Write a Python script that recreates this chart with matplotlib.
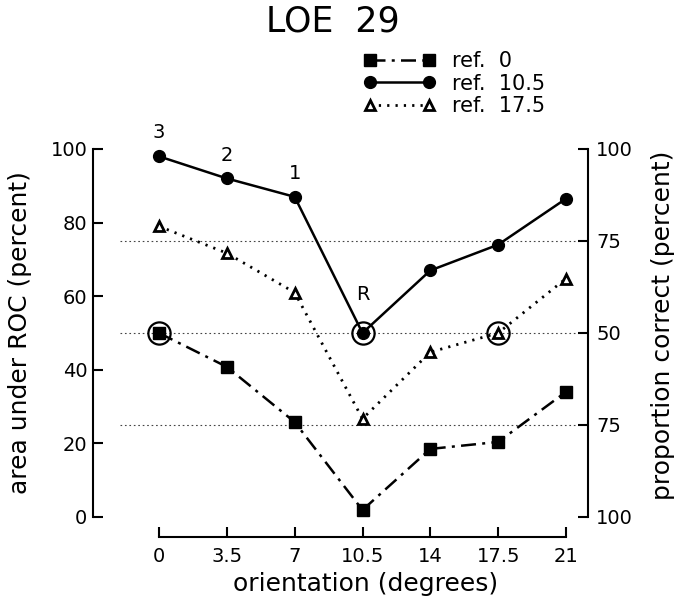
import matplotlib
matplotlib.use('Agg')
import matplotlib.pyplot as plt
from matplotlib.lines import Line2D

# 数据
orientation = [0, 3.5, 7, 10.5, 14, 17.5, 21]
ref_0 = [50, 40.8, 25.8, 1.9, 18.5, 20.4, 34]
ref_10_5 = [98, 92, 87, 50, 67, 74, 86.5]
ref_17_5 = [79, 71.7, 61, 26.7, 44.8, 50, 64.8]

# 参考点 (圈出来的 50%)
circled_x = [0, 10.5, 17.5]
circled_y = [50, 50, 50]

point_labels = ['3', '2', '1', 'R']
chance_levels = [25, 50, 75]

x_ticks = [0, 3.5, 7, 10.5, 14, 17.5, 21]
x_labels = ['0', '3.5', '7', '10.5', '14', '17.5', '21']
left_ticks = [0, 20, 40, 60, 80, 100]
right_ticks = [0, 25, 50, 75, 100]
right_labels = ['100', '75', '50', '75', '100']

plt.rcParams['font.size'] = 14
fig = plt.figure(figsize=(6.74, 5.98), dpi=100)
ax = fig.add_axes([159 / 674, 81 / 598, 407 / 674, 368 / 598])
ax.set_xlim(0, 21)
ax.set_ylim(0, 100)

# 虚线水平参考线
ax.hlines(chance_levels, -2.0, 21.6, colors='#444444', linestyles=(0, (1.5, 2.5)),
          linewidth=0.8, clip_on=False)

ax.plot(orientation, ref_0, color='black', lw=1.8, linestyle=(0, (6, 2.5, 1.2, 2.5)),
        marker='s', ms=8, clip_on=False, zorder=3)
ax.plot(orientation, ref_10_5, color='black', lw=1.8, linestyle='-',
        marker='o', ms=8.5, clip_on=False, zorder=3)
ax.plot(orientation, ref_17_5, color='black', lw=2, linestyle=(0, (0.8, 2.2)),
        marker='^', ms=7.5, mfc='white', mew=2, clip_on=False, zorder=3)
ax.plot(circled_x, circled_y, linestyle='none', marker='o', ms=16, mfc='none',
        mec='black', mew=1.6, clip_on=False, zorder=4)

# 标注 3 2 1 R
for i, lab in enumerate(point_labels):
    dy = 21 if lab == 'R' else 10
    ax.annotate(lab, (orientation[i], ref_10_5[i]), xytext=(0, dy),
                textcoords='offset points', ha='center', va='bottom', fontsize=14)

# 坐标轴
for s in ['top', 'right']:
    ax.spines[s].set_visible(False)
ax.spines['left'].set_position(('outward', 47.5))
ax.spines['bottom'].set_position(('outward', 14.4))
ax.spines['left'].set_linewidth(1.5)
ax.spines['bottom'].set_linewidth(1.5)
ax.set_xticks(x_ticks)
ax.set_xticklabels(x_labels)
ax.set_yticks(left_ticks)
ax.tick_params(axis='both', direction='in', length=7, width=1.5, labelsize=14)
ax.tick_params(axis='y', pad=4)
ax.tick_params(axis='x', pad=7)

ax2 = ax.twinx()
ax2.set_ylim(0, 100)
for s in ['top', 'left', 'bottom']:
    ax2.spines[s].set_visible(False)
ax2.spines['right'].set_position(('outward', 15.8))
ax2.spines['right'].set_linewidth(1.5)
ax2.set_yticks(right_ticks)
ax2.set_yticklabels(right_labels)
ax2.tick_params(axis='y', direction='in', length=7, width=1.5, labelsize=14, pad=6)

fig.text(20 / 674, 1 - 333 / 598, 'area under ROC (percent)', rotation=90,
         ha='center', va='center', fontsize=18)
fig.text(663 / 674, 1 - 325 / 598, 'proportion correct (percent)', rotation=90,
         ha='center', va='center', fontsize=18)
fig.text(366 / 674, 1 - 584 / 598, 'orientation (degrees)', ha='center', va='center',
         fontsize=18)
fig.text(333 / 674, 1 - 22 / 598, 'LOE  29', ha='center', va='center', fontsize=25)

handles = [
    Line2D([], [], color='black', lw=1.8, linestyle=(0, (6, 2.5, 1.2, 2.5)), marker='s', ms=8),
    Line2D([], [], color='black', lw=1.8, linestyle='-', marker='o', ms=8.5),
    Line2D([], [], color='black', lw=2, linestyle=(0, (0.8, 2.2)), marker='^', ms=7.5,
           mfc='white', mew=2),
]
fig.legend(handles, ['ref.  0', 'ref.  10.5', 'ref.  17.5'], loc='upper left',
           bbox_to_anchor=(364 / 674, 1 - 51 / 598), frameon=False, numpoints=2,
           handlelength=3.4, handletextpad=0.8, labelspacing=0.12, borderpad=0,
           borderaxespad=0, fontsize=15)

fig.savefig('out.png', dpi=100)
